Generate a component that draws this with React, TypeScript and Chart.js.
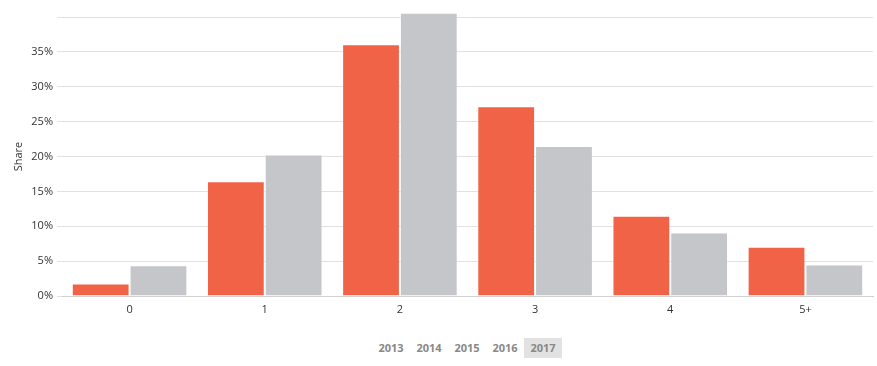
import React, { useEffect, useRef } from "react";
import { Chart, registerables } from "chart.js";

Chart.register(...registerables);

const categories = ["0", "1", "2", "3", "4", "5+"];
const seriesA = [1.8, 16.45, 36.1, 27.2, 11.5, 7.07];
const seriesB = [4.4, 20.3, 40.6, 21.5, 9.1, 4.5];
const yTicks = [0, 5, 10, 15, 20, 25, 30, 35, 40];
const years = ["2013", "2014", "2015", "2016", "2017"];
const activeYear = "2017";

export default function App() {
  const ref = useRef<HTMLCanvasElement>(null);
  useEffect(() => {
    if (!ref.current) return;
    const font = { family: "'Open Sans', 'DejaVu Sans', sans-serif", size: 11 };
    const chart = new Chart(ref.current, {
      type: "bar",
      data: {
        labels: categories,
        datasets: [
          {
            label: "A",
            data: seriesA,
            backgroundColor: "#f06347",
            borderColor: "rgba(255,255,255,0.35)",
            borderWidth: 1,
            clip: false as any,
            categoryPercentage: 0.855,
            barPercentage: 1,
          },
          {
            label: "B",
            data: seriesB,
            backgroundColor: "#c5c6ca",
            borderColor: "rgba(255,255,255,0.35)",
            borderWidth: 1,
            clip: false as any,
            categoryPercentage: 0.855,
            barPercentage: 1,
          },
        ],
      },
      options: {
        animation: false,
        responsive: false,
        maintainAspectRatio: false,
        layout: { padding: { top: 17, right: 4, left: 12, bottom: 0 } },
        plugins: { legend: { display: false }, tooltip: { enabled: false } },
        scales: {
          x: {
            grid: { display: false, drawTicks: false },
            border: { display: true, color: "#d0d0d0", width: 1 },
            ticks: { color: "#333", font, padding: 7 },
            afterFit: (s: any) => {
              s.height = 34;
            },
          },
          y: {
            min: 0,
            max: 40,
            afterBuildTicks: (s: any) => {
              s.ticks = yTicks.map((v) => ({ value: v }));
            },
            grid: { color: "#e1e1e1", lineWidth: 1, tickLength: 5 },
            border: { display: false },
            ticks: {
              color: "#333",
              font,
              padding: 4,
              callback: (v: any) => (Number(v) >= 40 ? "" : v + "%"),
            },
            title: { display: true, text: "Share", color: "#333", font, padding: 0 },
            afterFit: (s: any) => {
              s.width = 50;
            },
          },
        },
      },
    });
    return () => chart.destroy();
  }, []);

  return (
    <div style={{ position: "absolute", left: 0, top: 0, width: 877, height: 366, background: "#fff" }}>
      <canvas ref={ref} width={877} height={330} style={{ display: "block", width: 877, height: 330 }} />
      <div
        style={{
          position: "absolute",
          left: 372,
          top: 338,
          height: 20,
          display: "flex",
          fontFamily: "'Open Sans', 'DejaVu Sans', sans-serif",
          fontWeight: 700,
          fontSize: 11,
          color: "#888",
        }}
      >
        {years.map((y) => (
          <div
            key={y}
            style={{
              width: 38,
              height: 20,
              lineHeight: "20px",
              textAlign: "center",
              background: y === activeYear ? "#e2e2e2" : "transparent",
            }}
          >
            {y}
          </div>
        ))}
      </div>
    </div>
  );
}
